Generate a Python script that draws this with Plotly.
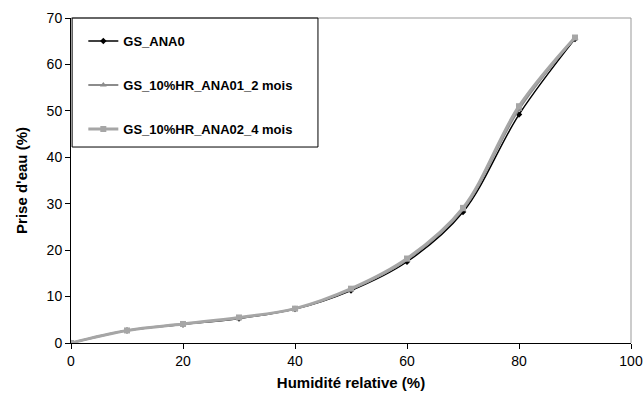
import plotly.graph_objects as go

humidite = [0, 10, 20, 30, 40, 50, 60, 70, 80, 90]
gs_ana0 = [0, 2.7, 4.0, 5.3, 7.3, 11.3, 17.5, 28.2, 49.2, 65.5]
gs_ana01 = [0, 2.7, 4.1, 5.4, 7.4, 11.5, 17.9, 28.7, 50.3, 65.7]
gs_ana02 = [0, 2.7, 4.1, 5.5, 7.4, 11.7, 18.2, 29.1, 51.0, 65.8]
names = ["GS_ANA0", "GS_10%HR_ANA01_2 mois", "GS_10%HR_ANA02_4 mois"]

fig = go.Figure()
fig.add_trace(go.Scatter(x=humidite, y=gs_ana0, name=names[0], mode="lines+markers",
                         line=dict(color="black", width=1.5, shape="spline", smoothing=1),
                         marker=dict(symbol="diamond", size=5, color="black"),
                         legendgroup="a", legendrank=1))
fig.add_trace(go.Scatter(x=humidite, y=gs_ana01, name=names[1], mode="lines+markers",
                         line=dict(color="#8c8c8c", width=2, shape="spline", smoothing=1),
                         marker=dict(symbol="triangle-up", size=6, color="#8c8c8c"),
                         legendgroup="b", legendrank=2))
fig.add_trace(go.Scatter(x=humidite, y=gs_ana02, name=names[2], mode="lines+markers",
                         line=dict(color="#a6a6a6", width=3, shape="spline", smoothing=1),
                         marker=dict(symbol="square", size=6, color="#a6a6a6"),
                         legendgroup="c", legendrank=3))

font = "Liberation Sans"
fig.update_layout(
    width=643, height=403,
    margin=dict(l=71, r=12, t=18, b=60, autoexpand=False),
    paper_bgcolor="white", plot_bgcolor="white",
    font=dict(family=font, size=14, color="black"),
    showlegend=True,
    legend=dict(x=0.022, y=0.975, xanchor="left", yanchor="top",
                bgcolor="rgba(0,0,0,0)", borderwidth=0,
                font=dict(family=font, size=13, color="black", weight="bold"),
                tracegroupgap=24, itemwidth=30),
    xaxis=dict(range=[0, 100], tickvals=[0, 20, 40, 60, 80, 100], showgrid=False,
               zeroline=False, showline=True, linecolor="black", linewidth=1,
               ticks="outside", ticklen=5, tickcolor="black", automargin=False,
               title=dict(text="<b>Humidité relative (%)</b>", font=dict(size=15), standoff=9)),
    yaxis=dict(range=[0, 70], tickvals=[0, 10, 20, 30, 40, 50, 60, 70], showgrid=False,
               zeroline=False, showline=True, linecolor="black", linewidth=1,
               ticks="outside", ticklen=5, tickcolor="black", automargin=False,
               title=dict(text="<b>Prise d'eau (%)</b>", font=dict(size=15), standoff=15)),
    shapes=[
        dict(type="line", xref="paper", yref="paper", x0=0, x1=1, y0=1, y1=1,
             line=dict(color="#999999", width=1)),
        dict(type="line", xref="paper", yref="paper", x0=1, x1=1, y0=0, y1=1,
             line=dict(color="#999999", width=1)),
        dict(type="rect", xref="paper", yref="paper", x0=0.002, x1=0.441, y0=0.603, y1=1,
             line=dict(color="black", width=1), fillcolor="rgba(0,0,0,0)"),
    ],
)

fig.write_html(
    "out.html",
    config={"displayModeBar": False},
    post_script="document.body.style.margin='0';document.documentElement.style.overflow='hidden';",
)
